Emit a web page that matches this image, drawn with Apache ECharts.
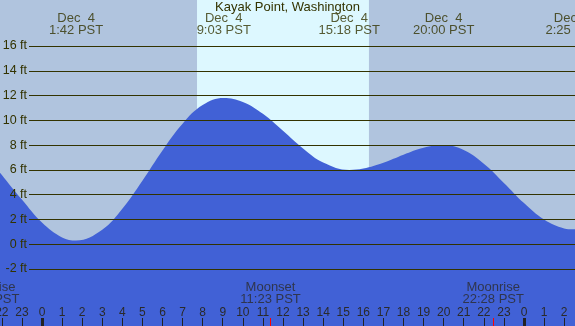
<!DOCTYPE html>
<html>
<head>
<meta charset="utf-8">
<script src="https://cdn.jsdelivr.net/npm/echarts@6/dist/echarts.min.js"></script>
<style>
  html, body { margin: 0; padding: 0; }
  #main { width: 575px; height: 326px; }
</style>
</head>
<body>
<div id="main"></div>
<script>
var myChart = echarts.init(document.getElementById('main'));

// hours since midnight Dec 4 (PST)
var tideHours = [-2.2, -1, 0, 1, 1.7, 3, 4, 5, 6, 7, 8, 9.05, 10, 11, 12, 13, 14, 15.3, 16, 17, 18, 19, 20, 21, 22, 23, 24, 25, 26, 26.42, 26.7];
var tideFeet = [6.0, 3.6, 1.75, 0.55, 0.3, 1.17, 2.86, 5.13, 7.57, 9.73, 11.23, 11.8, 11.48, 10.52, 9.15, 7.73, 6.6, 6.0, 6.11, 6.58, 7.23, 7.79, 8.0, 7.6, 6.5, 4.95, 3.32, 1.99, 1.27, 1.2, 1.22];

var extremeHours = [1.7, 9.05, 15.3, 20.0, 26.42];
var extremeDates = ['Dec  4', 'Dec  4', 'Dec  4', 'Dec  4', 'Dec  5'];
var extremeTimes = ['1:42 PST', '9:03 PST', '15:18 PST', '20:00 PST', '2:25 PST'];

var moonHours = [-2.65, 11.38, 22.47];
var moonNames = ['Moonrise', 'Moonset', 'Moonrise'];
var moonTimes = ['21:21 PST', '11:23 PST', '22:28 PST'];

var sunHours = [7.72, 16.28];

var hourTicks = [];
for (var h = -2; h <= 26; h++) hourTicks.push(h);
var midnightTicks = [0, 24];
var feetTicks = [-2, 0, 2, 4, 6, 8, 10, 12, 14, 16];

var xMin = -2.09, xMax = 26.54;
var yMin = -6.6, yMax = 19.71;
var font = 'Liberation Sans';

function pairs(xs, ys) {
    var res = [];
    for (var i = 0; i < xs.length; i++) res.push([xs[i], ys[i]]);
    return res;
}

function tickAxis(ticks, color, width, showLabel) {
    return {
        gridIndex: 0, type: 'value', min: xMin, max: xMax, z: 5,
        position: 'bottom', offset: 0,
        axisLine: { show: false, onZero: false },
        splitLine: { show: false },
        axisTick: { inside: true, length: 8, customValues: ticks, lineStyle: { color: color, width: width } },
        axisLabel: showLabel ? {
            inside: true, margin: 7, customValues: ticks,
            color: '#2a2a2a', fontSize: 12, fontFamily: font,
            formatter: function (v) { return String(((v % 24) + 24) % 24); }
        } : { show: false }
    };
}

var extremeData = extremeHours.map(function (t, i) {
    return { value: [t, 17.7], label: { formatter: extremeDates[i] + '\n' + extremeTimes[i] } };
});
var moonData = moonHours.map(function (t, i) {
    return { value: [t, -3.94], label: { formatter: moonNames[i] + '\n' + moonTimes[i] } };
});

option = {
    backgroundColor: '#b0c4de',
    animation: false,
    title: {
        text: 'Kayak Point, Washington',
        left: 'center',
        top: 1,
        padding: 0,
        textStyle: { fontSize: 13, fontWeight: 'normal', color: '#333300', fontFamily: font }
    },
    grid: [
        { left: 0, right: 0, top: 0, bottom: 0, outerBoundsMode: 'none', containLabel: false },
        { left: 29, right: 0, top: 0, bottom: 0, outerBoundsMode: 'none', containLabel: false }
    ],
    xAxis: [
        tickAxis(hourTicks, '#222', 1, true),
        tickAxis(midnightTicks, '#222', 3, false),
        tickAxis(moonHours, '#ff0000', 1, false),
        { gridIndex: 1, type: 'value', min: 0, max: 1, show: false }
    ],
    yAxis: [{
        gridIndex: 0, type: 'value', min: yMin, max: yMax, show: false
    }, {
        gridIndex: 1, type: 'value', min: yMin, max: yMax, z: 5,
        axisLine: { show: false },
        axisTick: { show: false, customValues: feetTicks },
        axisLabel: {
            customValues: feetTicks, margin: 2,
            color: '#333300', fontSize: 12.5, fontFamily: font,
            formatter: '{value} ft'
        },
        splitLine: { show: true, lineStyle: { color: '#333300', width: 1 } }
    }],
    series: [{
        type: 'line',
        xAxisIndex: 0, yAxisIndex: 0,
        data: [],
        z: 1,
        markArea: {
            silent: true,
            itemStyle: { color: '#ddf8ff' },
            data: [[{ xAxis: sunHours[0] }, { xAxis: sunHours[1] }]]
        }
    }, {
        name: 'tide',
        type: 'line',
        xAxisIndex: 0, yAxisIndex: 0,
        z: 2,
        smooth: 0.4,
        symbol: 'none',
        data: pairs(tideHours, tideFeet),
        lineStyle: { width: 0 },
        areaStyle: { color: '#4161d6', opacity: 1, origin: 'start' }
    }, {
        type: 'scatter',
        xAxisIndex: 0, yAxisIndex: 0,
        z: 6, clip: false, silent: true,
        symbolSize: 0,
        data: extremeData,
        label: {
            show: true, position: 'inside', align: 'center', verticalAlign: 'middle',
            color: '#333300', fontSize: 13, lineHeight: 12, fontFamily: font
        }
    }, {
        type: 'scatter',
        xAxisIndex: 0, yAxisIndex: 0,
        z: 6, clip: false, silent: true,
        symbolSize: 0,
        data: moonData,
        label: {
            show: true, position: 'inside', align: 'center', verticalAlign: 'middle',
            color: '#2a2a2a', fontSize: 13, lineHeight: 12, fontFamily: font
        }
    }]
};

myChart.setOption(option);
</script>
</body>
</html>
